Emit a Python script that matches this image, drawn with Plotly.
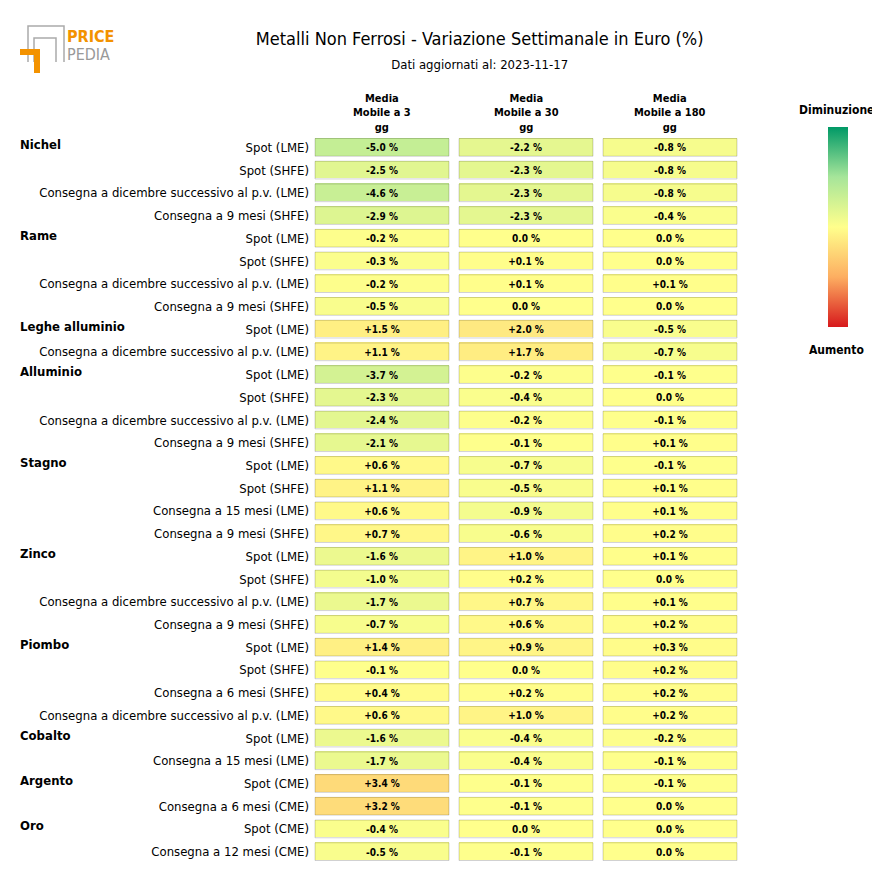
import plotly.graph_objects as go

# ----------------------------
# Dati
# ----------------------------
gruppi = ["Nichel", "Rame", "Leghe alluminio", "Alluminio", "Stagno", "Zinco", "Piombo", "Cobalto", "Argento", "Oro"]
voci = [
    ["Spot (LME)", "Spot (SHFE)", "Consegna a dicembre successivo al p.v. (LME)", "Consegna a 9 mesi (SHFE)"],
    ["Spot (LME)", "Spot (SHFE)", "Consegna a dicembre successivo al p.v. (LME)", "Consegna a 9 mesi (SHFE)"],
    ["Spot (LME)", "Consegna a dicembre successivo al p.v. (LME)"],
    ["Spot (LME)", "Spot (SHFE)", "Consegna a dicembre successivo al p.v. (LME)", "Consegna a 9 mesi (SHFE)"],
    ["Spot (LME)", "Spot (SHFE)", "Consegna a 15 mesi (LME)", "Consegna a 9 mesi (SHFE)"],
    ["Spot (LME)", "Spot (SHFE)", "Consegna a dicembre successivo al p.v. (LME)", "Consegna a 9 mesi (SHFE)"],
    ["Spot (LME)", "Spot (SHFE)", "Consegna a 6 mesi (SHFE)", "Consegna a dicembre successivo al p.v. (LME)"],
    ["Spot (LME)", "Consegna a 15 mesi (LME)"],
    ["Spot (CME)", "Consegna a 6 mesi (CME)"],
    ["Spot (CME)", "Consegna a 12 mesi (CME)"],
]
colonne = ["Media<br>Mobile a 3<br>gg", "Media<br>Mobile a 30<br>gg", "Media<br>Mobile a 180<br>gg"]

mm3 = [-5.0, -2.5, -4.6, -2.9, -0.2, -0.3, -0.2, -0.5, 1.5, 1.1, -3.7, -2.3, -2.4, -2.1,
       0.6, 1.1, 0.6, 0.7, -1.6, -1.0, -1.7, -0.7, 1.4, -0.1, 0.4, 0.6, -1.6, -1.7, 3.4, 3.2, -0.4, -0.5]
mm30 = [-2.2, -2.3, -2.3, -2.3, 0.0, 0.1, 0.1, 0.0, 2.0, 1.7, -0.2, -0.4, -0.2, -0.1,
        -0.7, -0.5, -0.9, -0.6, 1.0, 0.2, 0.7, 0.6, 0.9, 0.0, 0.2, 1.0, -0.4, -0.4, -0.1, -0.1, 0.0, -0.1]
mm180 = [-0.8, -0.8, -0.8, -0.4, 0.0, 0.0, 0.1, 0.0, -0.5, -0.7, -0.1, 0.0, -0.1, 0.1,
         -0.1, 0.1, 0.1, 0.2, 0.1, 0.0, 0.1, 0.2, 0.3, 0.2, 0.2, 0.2, -0.2, -0.1, -0.1, 0.0, 0.0, 0.0]

# ----------------------------
# Preparazione matrice
# ----------------------------
etichette = [v for g in voci for v in g]
n = len(etichette)
righe = list(range(n))
valori = [list(r) for r in zip(mm3, mm30, mm180)]
testo = [[f"{v:+.1f} %" if v != 0 else "0.0 %" for v in r] for r in valori]
# z invertito: verde in alto nella barra = diminuzione
z = [[-v for v in r] for r in valori]

scala = [[0.0, "#d7191c"], [0.25, "#fdae61"], [0.5, "#ffff8c"], [0.75, "#a6e59a"], [1.0, "#009966"]]
font_base = "DejaVu Sans Condensed, Liberation Sans Narrow, Roboto, Arial"

fig = go.Figure(go.Heatmap(
    z=z, x=[0, 1, 2], y=righe, text=testo, texttemplate="%{text}",
    textfont={"size": 10, "color": "black", "family": font_base, "weight": "bold"},
    colorscale=scala, zmin=-15, zmax=15, xgap=10, ygap=5, hoverinfo="text",
    colorbar=dict(xref="container", yref="container", x=820 / 880, xanchor="left", xpad=0, ypad=0,
                  y=1 - 142 / 870, yanchor="top", len=200, lenmode="pixels",
                  thickness=20, showticklabels=False, ticks="", outlinewidth=0),
))

# Bordi celle
for r in righe:
    for c in range(3):
        fig.add_shape(type="rect", xref="x", yref="y", x0=c - 0.465, x1=c + 0.465,
                      y0=r - 0.39, y1=r + 0.39, line=dict(color="rgba(0,0,0,0.18)", width=1))

def py(p):
    return (863 - p) / 727

def px(p):
    return (p - 302) / 432

# Nomi dei gruppi
i = 0
for g, vv in zip(gruppi, voci):
    fig.add_annotation(text=f"<b>{g}</b>", x=px(10), xref="paper", xanchor="left",
                       y=i, yref="y", yshift=3, showarrow=False,
                       font={"size": 13, "family": font_base, "color": "black"})
    i += len(vv)

# Intestazioni colonne
for c, t in enumerate(colonne):
    fig.add_annotation(text=f"<b>{t}</b>", x=c, xref="x", y=1, yref="paper", yanchor="bottom",
                       yshift=0, showarrow=False, font={"size": 11, "family": font_base})

fig.add_annotation(text="<b>Diminuzione</b>", x=px(828), xref="paper", xanchor="center", y=py(101), yref="paper",
                   showarrow=False, font={"size": 12, "family": font_base})
fig.add_annotation(text="<b>Aumento</b>", x=px(828), xref="paper", xanchor="center", y=py(341), yref="paper",
                   showarrow=False, font={"size": 12, "family": font_base})

# Logo
fig.add_annotation(text="<b>PRICE</b>", xref="paper", yref="paper", x=px(57), xanchor="left",
                   y=py(25), showarrow=False, font={"size": 16, "color": "#f39200", "family": font_base})
fig.add_annotation(text="PEDIA", xref="paper", yref="paper", x=px(57), xanchor="left",
                   y=py(43), showarrow=False, font={"size": 16, "color": "#999999", "family": font_base})
for (x0, y0, x1, y1, col) in [(20, 26, 56, 62, "#aaaaaa"), (26, 38, 48, 62, "#aaaaaa"),
                              (12, 49, 32, 55, "#f39200"), (26, 49, 32, 73, "#f39200")]:
    if col == "#aaaaaa":
        fig.add_shape(type="path", xref="paper", yref="paper",
                      path=f"M {px(x0)} {py(y1)} L {px(x0)} {py(y0)} L {px(x1)} {py(y0)} L {px(x1)} {py(y1)}",
                      line=dict(color=col, width=1.5))
    else:
        fig.add_shape(type="rect", xref="paper", yref="paper", x0=px(x0), x1=px(x1), y0=py(y1), y1=py(y0),
                      fillcolor=col, line_width=0)

fig.update_layout(
    width=880, height=870, template=None, paper_bgcolor="white", plot_bgcolor="white",
    margin=dict(l=302, r=146, t=128, b=15, autoexpand=False),
    font={"family": font_base, "color": "black"},
    title={"text": "Metalli Non Ferrosi - Variazione Settimanale in Euro (%)<br>"
                   "<span style='font-size:13px'>Dati aggiornati al: 2023-11-17</span>",
           "x": 0.536, "xanchor": "center", "y": 0.957, "yanchor": "top", "font": {"size": 18}},
    xaxis=dict(showticklabels=False, showgrid=False, zeroline=False, ticks="", showline=False,
               range=[-0.5, 2.5]),
    yaxis=dict(tickmode="array", tickvals=righe, ticktext=etichette, autorange="reversed",
               showgrid=False, zeroline=False, tickfont={"size": 13}, ticks="", automargin=False),
)

fig.write_html("out.html")
